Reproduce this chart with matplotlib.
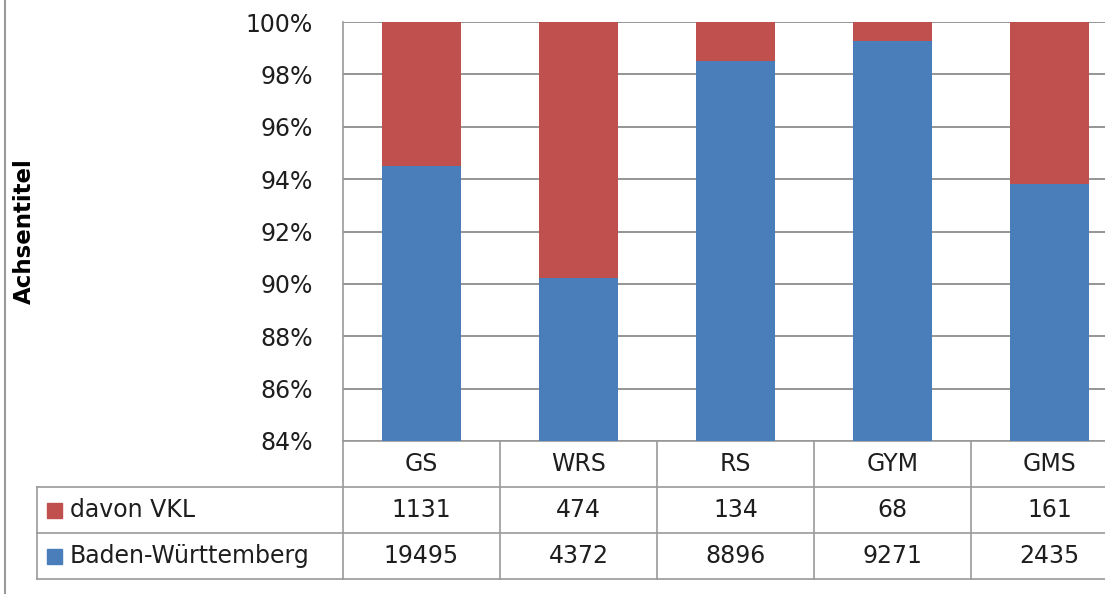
import matplotlib.pyplot as plt
from matplotlib.lines import Line2D
from matplotlib.patches import Rectangle
import matplotlib.transforms as mtransforms

categories = ['GS', 'WRS', 'RS', 'GYM', 'GMS']
bw_counts = [19495, 4372, 8896, 9271, 2435]
vkl_counts = [1131, 474, 134, 68, 161]
series_labels = ['davon VKL', 'Baden-Württemberg']
y_ticks = [84, 86, 88, 90, 92, 94, 96, 98, 100]

BLUE = '#4A7EBB'
RED = '#C0504D'
GRID = '#8C8C8C'
TABLE_LINE = '#9A9A9A'
TEXT = '#1E1E1E'
FONT = 'DejaVu Sans'
FS = 17

plt.rcParams['font.family'] = FONT

fig = plt.figure(figsize=(11.05, 5.94), dpi=100)
W, H = 1105, 594

# plot area in pixel terms; the last column runs past the right edge
left_px, right_px, top_px, bottom_px = 343, 1128, 22, 441
ax = fig.add_axes([left_px / W, 1 - bottom_px / H,
                   (right_px - left_px) / W, (bottom_px - top_px) / H])

totals = [b + v for b, v in zip(bw_counts, vkl_counts)]
bw_pct = [100 * b / t for b, t in zip(bw_counts, totals)]
vkl_pct = [100 * v / t for v, t in zip(vkl_counts, totals)]
x = list(range(len(categories)))

ax.bar(x, bw_pct, width=0.5, color=BLUE, zorder=3)
ax.bar(x, vkl_pct, width=0.5, bottom=bw_pct, color=RED, zorder=3)

ax.set_xlim(-0.5, len(categories) - 0.5)
ax.set_ylim(84, 100)
ax.set_yticks(y_ticks)
ax.set_yticklabels([f'{t}%' for t in y_ticks], fontsize=FS, color=TEXT)
ax.tick_params(axis='y', length=0, pad=21.5)
ax.set_xticks([])
ax.grid(axis='y', color=GRID, linewidth=1.3, zorder=0)
for side in ['top', 'right', 'bottom']:
    ax.spines[side].set_visible(False)
ax.spines['left'].set_color(TABLE_LINE)
ax.spines['left'].set_linewidth(1.2)

fig.text(24 / W, 1 - (top_px + bottom_px) / 2 / H, 'Achsentitel',
         rotation=90, ha='center', va='center', fontsize=16.5,
         fontweight='bold', color='black')

# data table under the plot: x in data units, y in axes fraction
trans = mtransforms.blended_transform_factory(ax.transData, ax.transAxes)
row_h = 46 / (bottom_px - top_px)
header_left = -0.5 - (left_px - 37) / ((right_px - left_px) / len(categories))
line_kw = dict(transform=trans, color=TABLE_LINE, linewidth=1.2, clip_on=False)

# horizontal table lines
ax.add_line(Line2D([-0.5, len(categories) - 0.5], [0, 0], **line_kw))
for r in (1, 2, 3):
    ax.add_line(Line2D([header_left, len(categories) - 0.5], [-r * row_h, -r * row_h], **line_kw))
# vertical table lines
ax.add_line(Line2D([header_left, header_left], [-row_h, -3 * row_h], **line_kw))
for i in range(len(categories) + 1):
    ax.add_line(Line2D([i - 0.5, i - 0.5], [0, -3 * row_h], **line_kw))

for i, cat in enumerate(categories):
    ax.text(i, -0.5 * row_h, cat, transform=trans, ha='center', va='center',
            fontsize=FS, color=TEXT)

rows = [(series_labels[0], RED, vkl_counts), (series_labels[1], BLUE, bw_counts)]
px_x = (right_px - left_px) / len(categories)
for r, (label, color, values) in enumerate(rows, start=1):
    yc = -(r + 0.5) * row_h
    sq = 15
    ax.add_patch(Rectangle((header_left + 10 / px_x, yc - sq / 2 / (bottom_px - top_px)),
                           sq / px_x, sq / (bottom_px - top_px), transform=trans,
                           color=color, clip_on=False))
    ax.text(header_left + 33 / px_x, yc, label, transform=trans, ha='left',
            va='center', fontsize=FS, color=TEXT)
    for i, v in enumerate(values):
        ax.text(i, yc, str(v), transform=trans, ha='center', va='center',
                fontsize=FS, color=TEXT)

# chart area border on the left edge
fig.add_artist(Line2D([4.5 / W, 4.5 / W], [0, 1], transform=fig.transFigure,
                      color=TABLE_LINE, linewidth=1.5))

fig.savefig('out.png', dpi=100)
